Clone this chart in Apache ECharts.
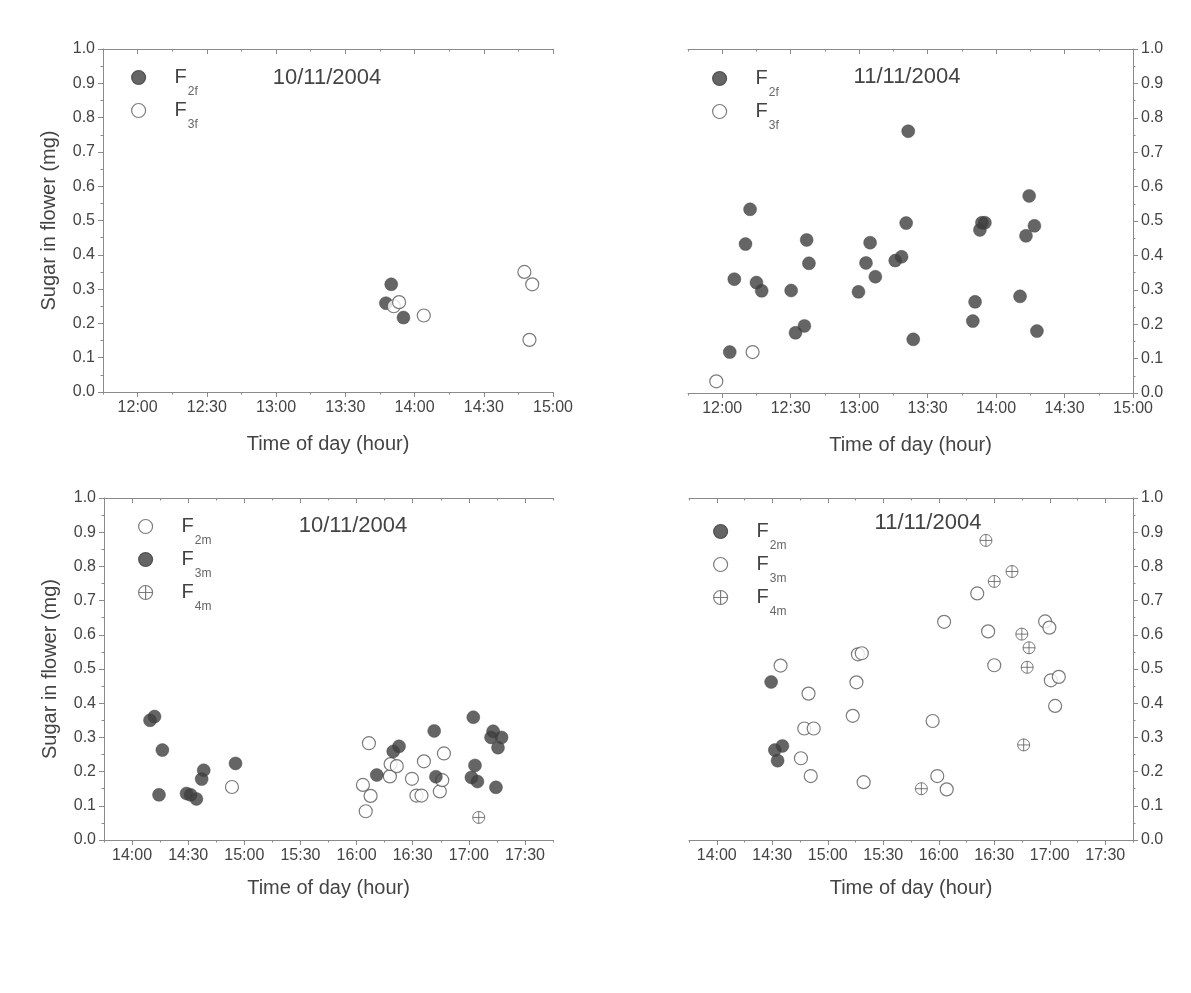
<!DOCTYPE html>
<html><head><meta charset="utf-8">
<script src="https://cdn.jsdelivr.net/npm/echarts@6/dist/echarts.min.js"></script>
<style>html,body{margin:0;padding:0;background:#fff}#c{width:1191px;height:993px}</style>
</head><body><div id="c"></div>
<script>
// ---- data: time in minutes after midnight, sugar in mg ----
const xTickLabelsTop = ['12:00','12:30','13:00','13:30','14:00','14:30','15:00'];
const xTickLabelsBottom = ['14:00','14:30','15:00','15:30','16:00','16:30','17:00','17:30'];
const yTickLabels = ['0.0','0.1','0.2','0.3','0.4','0.5','0.6','0.7','0.8','0.9','1.0'];

const tl_F2f = [[827.6,0.259],[829.9,0.314],[835.2,0.217]];
const tl_F3f = [[831.0,0.250],[833.3,0.262],[844.0,0.223],[887.6,0.350],[891.0,0.314],[889.8,0.152]];

const tr_F2f = [[723.3,0.119],[725.3,0.331],[730.2,0.433],[732.2,0.534],[735.0,0.321],[737.3,0.297],[750.2,0.298],[752.1,0.175],[756.0,0.195],[757.0,0.445],[758.0,0.377],[779.7,0.294],[783.0,0.378],[784.8,0.437],[787.1,0.338],[795.8,0.385],[798.6,0.396],[800.6,0.494],[801.5,0.761],[803.7,0.156],[829.8,0.209],[830.8,0.265],[832.9,0.474],[833.8,0.495],[835.1,0.495],[850.5,0.281],[853.1,0.457],[854.5,0.573],[856.8,0.486],[857.9,0.180]];
const tr_F3f = [[717.4,0.034],[733.3,0.119]];

const bl_F2m = [[893.4,0.155],[963.4,0.161],[964.9,0.084],[966.6,0.283],[967.5,0.129],[977.8,0.186],[978.2,0.222],[981.5,0.216],[989.6,0.179],[992.0,0.130],[994.7,0.130],[996.0,0.230],[1004.5,0.142],[1005.8,0.175],[1006.7,0.253]];
const bl_F3m = [[849.6,0.350],[852.0,0.361],[854.4,0.132],[856.2,0.263],[869.1,0.136],[871.3,0.132],[874.4,0.120],[877.2,0.178],[878.3,0.204],[895.3,0.224],[970.8,0.190],[979.6,0.259],[982.7,0.274],[1001.5,0.319],[1002.4,0.185],[1021.4,0.183],[1022.4,0.359],[1023.3,0.218],[1024.6,0.171],[1031.9,0.300],[1033.0,0.318],[1034.5,0.154],[1035.6,0.270],[1037.5,0.300]];
const bl_F4m = [[1025.3,0.066]];

const br_F2m = [[869.4,0.462],[871.4,0.263],[872.9,0.232],[875.5,0.275]];
const br_F3m = [[874.5,0.510],[885.5,0.239],[887.3,0.326],[889.6,0.428],[890.8,0.187],[892.4,0.326],[913.5,0.363],[915.5,0.461],[916.3,0.543],[918.4,0.546],[919.4,0.169],[956.7,0.348],[959.2,0.187],[962.9,0.638],[964.3,0.148],[980.8,0.721],[986.7,0.610],[990.0,0.511],[1017.5,0.639],[1019.8,0.621],[1020.6,0.467],[1022.9,0.392],[1024.9,0.477]];
const br_F4m = [[950.6,0.150],[985.5,0.876],[990.0,0.756],[999.6,0.785],[1004.9,0.602],[1005.9,0.278],[1007.8,0.505],[1008.8,0.562]];

// ---- styling ----
const FONT = "'Liberation Sans', Arial, Helvetica, sans-serif";
const C_TEXT = '#444444', C_AXIS = '#8a8a8a', C_FILL = '#3e3e3e', C_EDGE = '#5a5a5a';
const CROSS = 'path://M12,2A10,10 0 1,1 12,22A10,10 0 1,1 12,2Z M2,12L22,12 M12,2L12,22';
const MARK = {
  filled: {symbol:'circle', size:13, itemStyle:{color:C_FILL, borderColor:C_FILL, borderWidth:0.5}},
  hollow: {symbol:'circle', size:13, itemStyle:{color:'#fff', borderColor:C_EDGE, borderWidth:1.2}},
  cross:  {symbol:CROSS, size:12, itemStyle:{color:'#fff', borderColor:C_EDGE, borderWidth:1}}
};
const toMin = s => { const p = s.split(':').map(Number); return p[0]*60 + p[1]; };
const fmtTime = v => { const h = Math.floor(v/60), m = Math.round(v - h*60); return h + ':' + String(m).padStart(2,'0'); };

const panels = [
  {key:'TL', grid:{left:103, top:49, width:450, height:343}, xMin:'11:45', xMax:'15:00', xLabels:xTickLabelsTop, yPos:'left', date:'10/11/2004', dateAt:[327,78], legendAt:[138,78], nameGap:42,
   series:[['F2f', tl_F2f, 'filled'], ['F3f', tl_F3f, 'hollow']]},
  {key:'TR', grid:{left:688, top:49, width:445, height:344}, xMin:'11:45', xMax:'15:00', xLabels:xTickLabelsTop, yPos:'right', date:'11/11/2004', dateAt:[907,77], legendAt:[719,79], nameGap:42,
   series:[['F2f', tr_F2f, 'filled'], ['F3f', tr_F3f, 'hollow']]},
  {key:'BL', grid:{left:104, top:498, width:449, height:342}, xMin:'13:45', xMax:'17:45', xLabels:xTickLabelsBottom, yPos:'left', date:'10/11/2004', dateAt:[353,526], legendAt:[145,527], nameGap:38,
   series:[['F2m', bl_F2m, 'hollow'], ['F3m', bl_F3m, 'filled'], ['F4m', bl_F4m, 'cross']]},
  {key:'BR', grid:{left:689, top:498, width:444, height:342}, xMin:'13:45', xMax:'17:45', xLabels:xTickLabelsBottom, yPos:'right', date:'11/11/2004', dateAt:[928,523], legendAt:[720,532], nameGap:38,
   series:[['F2m', br_F2m, 'filled'], ['F3m', br_F3m, 'hollow'], ['F4m', br_F4m, 'cross']]}
];

const lineStyle = {color:C_AXIS, width:1};
const grids = [], xAxes = [], yAxes = [], series = [], legends = [], titles = [];
panels.forEach((p, i) => {
  grids.push(Object.assign({containLabel:false}, p.grid));
  const min = toMin(p.xMin), max = toMin(p.xMax);
  const majors = p.xLabels.map(toMin);
  const base = {gridIndex:i, type:'value', min:min, max:max, interval:15, splitLine:{show:false}};
  const xMain = xAxes.length;
  xAxes.push(Object.assign({}, base, {
    position:'bottom',
    axisLine:{show:true, onZero:false, lineStyle},
    axisTick:{show:true, length:5, customValues:majors, lineStyle},
    axisLabel:{show:true, customValues:majors, formatter:fmtTime, color:C_TEXT, fontSize:16, margin:8, fontFamily:FONT},
    name:'Time of day (hour)', nameLocation:'middle', nameGap:p.nameGap,
    nameTextStyle:{fontSize:20, color:C_TEXT, fontFamily:FONT}
  }));
  xAxes.push(Object.assign({}, base, {position:'bottom', axisLine:{show:false, onZero:false}, axisTick:{show:true, length:2.5, lineStyle}, axisLabel:{show:false}}));
  xAxes.push(Object.assign({}, base, {position:'top', axisLine:{show:true, onZero:false, lineStyle}, axisTick:{show:true, inside:true, length:5, customValues:majors, lineStyle}, axisLabel:{show:false}}));
  xAxes.push(Object.assign({}, base, {position:'top', axisLine:{show:false, onZero:false}, axisTick:{show:true, inside:true, length:2.5, lineStyle}, axisLabel:{show:false}}));
  const y = {
    gridIndex:i, type:'value', position:p.yPos, min:0, max:1, interval:0.1,
    axisLine:{show:true, onZero:false, lineStyle},
    axisTick:{show:true, length:5, lineStyle},
    minorTick:{show:true, splitNumber:2, length:2.5, lineStyle},
    splitLine:{show:false}, minorSplitLine:{show:false},
    axisLabel:{customValues:yTickLabels.map(Number), formatter:v => v.toFixed(1), color:C_TEXT, fontSize:16, margin:8, fontFamily:FONT}
  };
  if (p.yPos === 'left') {
    Object.assign(y, {name:'Sugar in flower (mg)', nameLocation:'middle', nameGap:44, nameTextStyle:{fontSize:20, color:C_TEXT, fontFamily:FONT}});
  }
  yAxes.push(y);
  p.series.forEach(s => {
    const m = MARK[s[2]];
    series.push({
      type:'scatter', name:p.key + '_' + s[0], xAxisIndex:xMain, yAxisIndex:i,
      data:s[1], symbol:m.symbol, symbolSize:m.size, itemStyle:m.itemStyle, silent:true
    });
  });
  legends.push({
    orient:'vertical', left:p.legendAt[0] - 7, top:p.legendAt[1] - 20.5, padding:0,
    itemWidth:14, itemHeight:14, itemGap:-7, selectedMode:false,
    itemStyle:{borderWidth:1.2},
    data:p.series.map(s => p.key + '_' + s[0]),
    formatter:n => { const s = n.split('_')[1]; return '{f|F}{s|' + s.slice(1) + '}'; },
    textStyle:{rich:{
      f:{fontSize:20, lineHeight:24, color:C_TEXT, fontFamily:FONT, padding:[0,0,0,24]},
      s:{fontSize:12, lineHeight:24, color:'#666666', fontFamily:FONT, padding:[28,0,0,1]}
    }}
  });
  titles.push({text:p.date, left:p.dateAt[0], top:p.dateAt[1] - 11, textAlign:'center', padding:0,
    textStyle:{fontSize:22, fontWeight:'normal', color:C_TEXT, fontFamily:FONT}});
});

const chart = echarts.init(document.getElementById('c'), null, {renderer:'canvas'});
chart.setOption({
  backgroundColor:'#ffffff', animation:false,
  title:titles, legend:legends, grid:grids, xAxis:xAxes, yAxis:yAxes, series:series
});
</script></body></html>
